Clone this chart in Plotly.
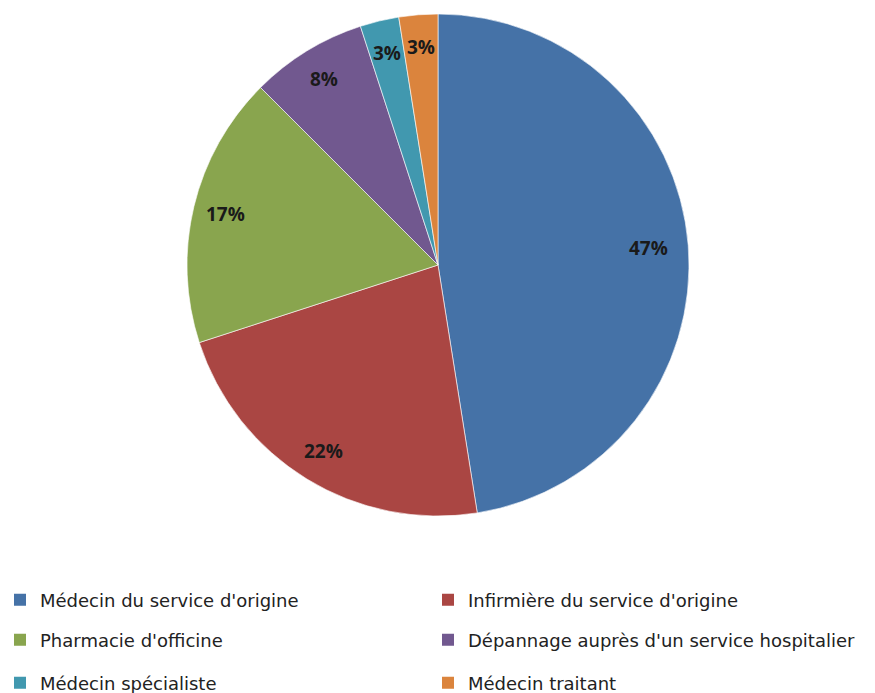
import numpy as np
import plotly.graph_objects as go

categories = ["Médecin du service d'origine", "Infirmière du service d'origine",
              "Pharmacie d'officine", "Dépannage auprès d'un service hospitalier",
              "Médecin spécialiste", "Médecin traitant"]
counts = [38, 18, 14, 6, 2, 2]
pct_labels = ["47%", "22%", "17%", "8%", "3%", "3%"]
colors = ["#4572A7", "#AA4643", "#89A54E", "#71588F", "#4198AF", "#DB843D"]

W, H = 875, 693
cx_px, cy_px, r_px = 438, 265, 251
dom_x = [(cx_px - r_px) / W, (cx_px + r_px) / W]
dom_y = [1 - (cy_px + r_px) / H, 1 - (cy_px - r_px) / H]

fig = go.Figure()
fig.add_trace(go.Pie(
    labels=categories, values=counts, sort=False, direction="clockwise", rotation=0,
    marker=dict(colors=colors, line=dict(color="rgba(255,255,255,0.6)", width=1)),
    textinfo="none", showlegend=False, hoverinfo="label+percent",
    domain=dict(x=dom_x, y=dom_y),
))

# percentage labels placed at mid-angle of each slice
total = sum(counts)
cum = np.cumsum([0] + counts)
annotations = []
for i, lab in enumerate(pct_labels):
    mid = (cum[i] + cum[i + 1]) / 2 / total * 2 * np.pi
    rr = 0.87 if counts[i] / total < 0.4 else 0.84
    ax = cx_px / W + rr * r_px / W * np.sin(mid)
    ay = 1 - cy_px / H + rr * r_px / H * np.cos(mid)
    annotations.append(dict(x=ax, y=ay, xref="paper", yref="paper", text="<b>%s</b>" % lab,
                            xanchor="center", yanchor="middle", showarrow=False,
                            font=dict(family="Open Sans", size=19, color="#1a1a1a")))

legend_names = ["legend", "legend", "legend2", "legend2", "legend3", "legend3"]
for i, (name, c) in enumerate(zip(categories, colors)):
    fig.add_trace(go.Scatter(x=[None], y=[None], mode="markers", name=name,
                             marker=dict(symbol="square", size=12, color=c),
                             legend=legend_names[i]))

row_y = [600, 640, 683]
leg_common = dict(orientation="h", x=0, xanchor="left", yanchor="middle",
                  xref="container", yref="container",
                  entrywidth=383, entrywidthmode="pixels", bgcolor="rgba(0,0,0,0)",
                  font=dict(family="DejaVu Sans", size=18, color="#222"), itemclick=False)
layout_legends = {}
for k, nm in enumerate(["legend", "legend2", "legend3"]):
    layout_legends[nm] = dict(leg_common, y=1 - row_y[k] / H)

fig.update_layout(
    width=W, height=H, margin=dict(l=0, r=0, t=0, b=0, autoexpand=False),
    paper_bgcolor="white", plot_bgcolor="white",
    xaxis=dict(visible=False), yaxis=dict(visible=False),
    annotations=annotations, **layout_legends,
)
fig.write_html("out.html")
